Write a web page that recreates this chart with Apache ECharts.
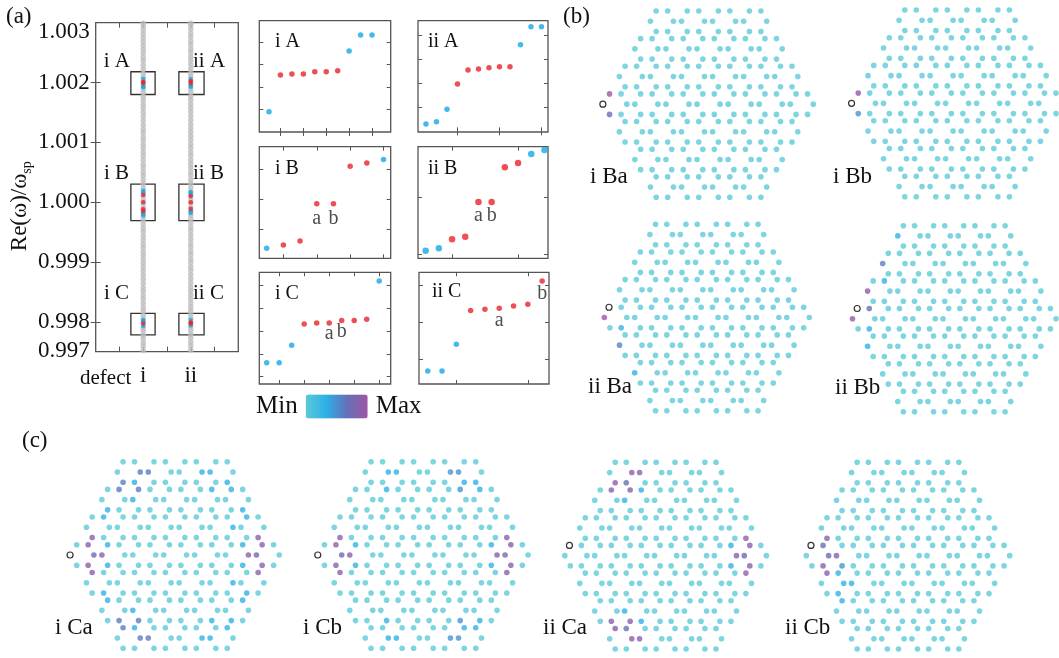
<!DOCTYPE html>
<html>
<head>
<meta charset="utf-8">
<script src="https://cdn.jsdelivr.net/npm/echarts@6/dist/echarts.min.js"></script>
<style>
  html, body { margin: 0; padding: 0; background: #fff; }
  #chart { width: 1059px; height: 658px; }
</style>
</head>
<body>
<div id="chart"></div>
<script>
// ---------------- data : panel (a) ----------------
const xTicksMain = [1, 2, 3, 4, 5];
const xLabelsMain = { 2: 'i', 4: 'ii' };
const yTickValues = [0.9975, 0.998, 0.999, 1.000, 1.001, 1.002, 1.003];
const yTickLabels = ['0.997', '0.998', '0.999', '1.000', '1.001', '1.002', '1.003'];

// continuum eigenvalues Re(w)/w_sp (gray columns)
const continuumI = [
  0.99752, 0.99759, 0.99765, 0.99772, 0.99778, 0.99785, 0.99791, 0.99798, 0.99805, 0.99811,
  0.99818, 0.99824, 0.99831, 0.99838, 0.99844, 0.99851, 0.99857, 0.99864, 0.99871, 0.99878,
  0.99885, 0.99891, 0.99898, 0.99904, 0.99911, 0.99917, 0.99924, 0.99930, 0.99937, 0.99944,
  0.99951, 0.99957, 0.99964, 0.99971, 0.99977, 0.99984, 0.99990, 0.99997, 1.00003, 1.00010,
  1.00016, 1.00023, 1.00030, 1.00037, 1.00044, 1.00050, 1.00057, 1.00063, 1.00070, 1.00077,
  1.00083, 1.00090, 1.00096, 1.00103, 1.00109, 1.00116, 1.00122, 1.00129, 1.00136, 1.00143,
  1.00150, 1.00157, 1.00163, 1.00170, 1.00176, 1.00183, 1.00189, 1.00196, 1.00202, 1.00209,
  1.00215, 1.00222, 1.00229, 1.00236, 1.00242, 1.00249, 1.00255, 1.00262, 1.00268, 1.00275,
  1.00281, 1.00288, 1.00294, 1.00299
];
const continuumII = [
  0.99753, 0.99760, 0.99766, 0.99773, 0.99779, 0.99786, 0.99792, 0.99799, 0.99806, 0.99812,
  0.99819, 0.99825, 0.99832, 0.99839, 0.99845, 0.99852, 0.99858, 0.99865, 0.99872, 0.99879,
  0.99886, 0.99892, 0.99899, 0.99905, 0.99912, 0.99918, 0.99925, 0.99931, 0.99938, 0.99945,
  0.99952, 0.99958, 0.99965, 0.99972, 0.99978, 0.99985, 0.99991, 0.99998, 1.00004, 1.00011,
  1.00017, 1.00024, 1.00031, 1.00038, 1.00045, 1.00051, 1.00058, 1.00064, 1.00071, 1.00078,
  1.00084, 1.00091, 1.00097, 1.00104, 1.00110, 1.00117, 1.00123, 1.00130, 1.00137, 1.00144,
  1.00151, 1.00158, 1.00164, 1.00171, 1.00177, 1.00184, 1.00190, 1.00197, 1.00203, 1.00210,
  1.00216, 1.00223, 1.00230, 1.00237, 1.00243, 1.00250, 1.00256, 1.00263, 1.00269, 1.00276,
  1.00282, 1.00289, 1.00295, 1.00299
];
// defect modes highlighted inside the boxes
const modesBlueI  = [1.00206, 1.00194, 1.00192, 1.00019, 1.00016, 0.99981, 0.99978, 0.99803, 0.99801, 0.99793];
const modesRedI   = [1.00201, 1.00199, 1.00012, 1.00000, 0.99988, 0.99985, 0.99797];
const modesBlueII = [1.00206, 1.00195, 1.00193, 1.00017, 1.00014, 0.99985, 0.99982, 0.99803, 0.99794];
const modesRedII  = [1.00202, 1.00199, 1.00010, 1.00000, 0.99989, 0.99799, 0.99797];
const boxRangesY = [[1.0018, 1.00218], [0.99969, 1.0003], [0.99778, 0.99814]];
const boxRangeXI = [1.48, 2.5];
const boxRangeXII = [3.5, 4.56];

// ---------------- data : zoomed spectra ----------------
const iA_values = [0.905, 2.54, 2.59, 2.59, 2.69, 2.69, 2.73, 3.61, 4.32, 4.32];
const iA_kinds  = ['b', 'r', 'r', 'r', 'r', 'r', 'r', 'b', 'b', 'b'];
const iA_tags   = ['', '', '', '', '', '', '', '', '', ''];
const iiA_values = [0.31, 0.40, 0.92, 1.97, 2.55, 2.59, 2.64, 2.68, 2.68, 3.59, 4.34, 4.34];
const iiA_kinds  = ['b', 'b', 'b', 'r', 'r', 'r', 'r', 'r', 'r', 'b', 'b', 'b'];
const iiA_tags   = ['', '', '', '', '', '', '', '', '', '', '', ''];
const iB_values = [0.357, 0.467, 0.60, 1.84, 1.84, 3.09, 3.20, 3.31];
const iB_kinds  = ['b', 'r', 'r', 'r', 'r', 'r', 'r', 'b'];
const iB_tags   = ['', '', '', 'a', 'b', '', '', ''];
const iiB_values = [1.058, 1.10, 1.26, 1.305, 1.917, 1.917, 2.53, 2.605, 2.76, 2.83];
const iiB_kinds  = ['b', 'b', 'r', 'r', 'r', 'r', 'r', 'r', 'b', 'b'];
const iiB_tags   = ['', '', '', '', 'a', 'b', '', '', '', ''];
const iC_values = [1.61, 1.61, 2.37, 3.30, 3.34, 3.34, 3.45, 3.45, 3.51, 5.18];
const iC_kinds  = ['b', 'b', 'b', 'r', 'r', 'r', 'r', 'r', 'r', 'b'];
const iC_tags   = ['', '', '', '', '', 'a', 'b', '', '', ''];
const iiC_values = [0.673, 0.673, 1.40, 2.32, 2.354, 2.38, 2.44, 2.49, 3.125];
const iiC_kinds  = ['b', 'b', 'b', 'r', 'r', 'r', 'r', 'r', 'r'];
const iiC_tags   = ['', '', '', '', '', 'a', '', '', 'b'];

// ---------------- data : lattice field maps ----------------
// hexamer rows from top (j = 3) to bottom (j = -3)
const hexRows = [4, 5, 6, 7, 6, 5, 4];
const siteRadius = 0.37;            // hexamer radius / lattice constant
// defect site [row j, hexamer k, vertex v]
const defect_i = [0, 0, 3];
const defect_ii = [0, 0, 2];
// highlighted sites [j, k, v, |field| level 0..1]
const iBa_sites = [[0, 0, 2, 1.0], [0, 0, 4, 0.7]];
const iBb_sites = [[0, 0, 2, 0.95], [0, 0, 4, 0.47]];
const iiBa_sites = [[0, 0, 3, 1.0], [0, 0, 5, 0.3], [-1, 0, 3, 0.55], [-2, 0, 3, 0.3]];
const iiBb_sites = [[0, 0, 3, 0.9], [0, 0, 1, 0.65], [0, 0, 5, 0.3], [1, 0, 3, 0.95], [-1, 0, 3, 0.3],
  [2, 0, 3, 0.6], [1, 0, 1, 0.3], [3, 0, 3, 0.3]];
const iCa_sites = [
  [0, 0, 0, 0.7], [0, 0, 1, 0.88], [0, 0, 5, 0.88], [0, 1, 3, 0.88], [0, 1, 2, 0.3], [0, 1, 4, 0.3],
  [1, 0, 4, 0.88], [-1, 0, 2, 0.88],
  [0, 5, 0, 0.88], [0, 6, 3, 0.7], [0, 6, 2, 0.88], [0, 6, 4, 0.88], [1, 5, 5, 0.88], [-1, 5, 1, 0.88],
  [0, 5, 1, 0.3], [0, 5, 5, 0.3],
  [3, 0, 0, 0.6], [3, 1, 3, 0.6], [3, 0, 4, 0.6], [3, 0, 5, 0.3], [2, 0, 1, 0.6], [2, 1, 2, 0.6],
  [2, 1, 3, 0.3], [2, 0, 4, 0.3], [1, 0, 1, 0.3],
  [3, 2, 0, 0.3], [3, 3, 3, 0.3], [3, 3, 5, 0.3], [2, 3, 1, 0.3], [2, 4, 2, 0.3], [2, 4, 5, 0.3],
  [1, 5, 2, 0.3], [1, 4, 0, 0.3],
  [-3, 0, 0, 0.6], [-3, 1, 3, 0.6], [-3, 0, 2, 0.6], [-3, 0, 1, 0.3], [-2, 0, 5, 0.6], [-2, 1, 4, 0.6],
  [-2, 1, 3, 0.3], [-2, 0, 2, 0.3], [-1, 0, 5, 0.3],
  [-3, 2, 0, 0.3], [-3, 3, 3, 0.3], [-3, 3, 1, 0.3], [-2, 3, 5, 0.3], [-2, 4, 4, 0.3], [-2, 4, 1, 0.3],
  [-1, 5, 4, 0.3], [-1, 4, 0, 0.3]
];
const iCb_sites = [
  [0, 0, 0, 0.7], [0, 0, 1, 0.88], [0, 0, 5, 0.88], [0, 1, 3, 0.88], [0, 1, 2, 0.3], [0, 1, 4, 0.3],
  [1, 0, 4, 0.88], [-1, 0, 2, 0.88],
  [0, 5, 0, 0.88], [0, 6, 3, 0.7], [0, 6, 2, 0.88], [0, 6, 4, 0.88], [1, 5, 5, 0.88], [-1, 5, 1, 0.88],
  [0, 5, 1, 0.3], [0, 5, 5, 0.3],
  [3, 0, 0, 0.3], [3, 1, 3, 0.3], [3, 2, 0, 0.47], [3, 3, 3, 0.47], [3, 3, 4, 0.3], [3, 3, 5, 0.3],
  [2, 1, 2, 0.3], [2, 3, 1, 0.47], [2, 4, 2, 0.3],
  [-3, 0, 0, 0.3], [-3, 1, 3, 0.3], [-3, 2, 0, 0.47], [-3, 3, 3, 0.47], [-3, 3, 2, 0.3], [-3, 3, 1, 0.3],
  [-2, 1, 4, 0.3], [-2, 3, 5, 0.47], [-2, 4, 4, 0.3]
];
const iiCa_sites = [
  [3, 0, 0, 0.88], [3, 1, 3, 0.88], [3, 0, 4, 0.88], [3, 0, 5, 0.68], [2, 0, 1, 0.88], [2, 1, 2, 0.88],
  [2, 1, 1, 0.3], [2, 1, 3, 0.3],
  [-3, 0, 0, 0.88], [-3, 1, 3, 0.88], [-3, 0, 2, 0.88], [-3, 0, 1, 0.68], [-2, 0, 5, 0.88], [-2, 1, 4, 0.88],
  [-2, 1, 5, 0.3], [-2, 1, 3, 0.3],
  [1, 5, 5, 0.88], [0, 5, 1, 0.3], [0, 6, 2, 0.88], [0, 5, 0, 0.88], [0, 6, 3, 0.7], [0, 5, 5, 0.3],
  [0, 6, 4, 0.88], [-1, 5, 1, 0.88]
];
const iiCb_sites = [
  [1, 0, 4, 0.88], [0, 0, 1, 0.68], [0, 0, 0, 0.7], [0, 1, 3, 0.88], [0, 0, 5, 0.88], [0, 1, 4, 0.47],
  [-1, 0, 2, 0.88], [-1, 0, 1, 0.3], [-1, 0, 0, 0.3], [-1, 1, 3, 0.3], [-1, 0, 5, 0.3], [-2, 0, 2, 0.3]
];

// ---------------- layout / style ----------------
const FONT = '"Liberation Serif", "Times New Roman", serif';
const BLUE = '#17a8e6', RED = '#e8232b', INK = '#111';
const FRAME = '#555';

const zoomPanels = [
  { title: 'i A',  values: iA_values,  kinds: iA_kinds,  tags: iA_tags,  rect: [259.3, 20.7, 390.7, 132],
    x: [0.153, 11.63], y: [0, 4.96], xTicks: [2, 4, 6, 8, 10], yTicks: [1, 2, 3, 4], tPos: [275, 42], size: 5.5, tagGap: 2 },
  { title: 'ii A', values: iiA_values, kinds: iiA_kinds, tags: iiA_tags, rect: [418, 20.7, 548, 132],
    x: [0.24, 12.62], y: [-0.025, 4.59], xTicks: [4, 8, 12], yTicks: [1, 2, 3, 4], tPos: [428, 42], size: 5.5, tagGap: 2 },
  { title: 'i B',  values: iB_values,  kinds: iB_kinds,  tags: iB_tags,  rect: [259.3, 146.7, 390.7, 258.3],
    x: [0.557, 8.43], y: [0.02, 3.74], xTicks: [2, 4, 6, 8], yTicks: [1, 2, 3], tPos: [275, 168.5], size: 5.5, tagGap: 2 },
  { title: 'ii B', values: iiB_values, kinds: iiB_kinds, tags: iiB_tags, rect: [418, 146.7, 548, 258.3],
    x: [0.42, 10.27], y: [0.924, 2.89], xTicks: [3, 8], yTicks: [1, 2], tPos: [428, 168.5], size: 6.5, tagGap: 1 },
  { title: 'i C',  values: iC_values,  kinds: iC_kinds,  tags: iC_tags,  rect: [259.3, 272.3, 390.7, 384],
    x: [0.41, 10.92], y: [0.68, 5.56], xTicks: [2, 4, 6, 8, 10], yTicks: [1, 2, 3, 4, 5], tPos: [275, 293.5], size: 5.5, tagGap: -2 },
  { title: 'ii C', values: iiC_values, kinds: iiC_kinds, tags: iiC_tags, rect: [419, 272.3, 549, 384],
    x: [0.39, 9.48], y: [0.32, 3.36], xTicks: [3, 8], yTicks: [1, 2, 3], tPos: [432, 292], size: 5.5, tagGap: 0 }
];

// box = [x of left-most site, y of top row, x of right-most site, y of bottom row] in px
const latticePanels = [
  { sites: iBa_sites,  defect: defect_i,  label: 'i Ba',  box: [603.8, 11, 813.3, 197.3],   tag: [590, 177] },
  { sites: iBb_sites,  defect: defect_i,  label: 'i Bb',  box: [852.5, 10, 1061.7, 196.7],  tag: [833, 177] },
  { sites: iiBa_sites, defect: defect_ii, label: 'ii Ba', box: [604.3, 224.3, 809.3, 410.7], tag: [588, 387] },
  { sites: iiBb_sites, defect: defect_ii, label: 'ii Bb', box: [852.5, 225.7, 1056, 411.7], tag: [835, 388] },
  { sites: iCa_sites,  defect: defect_i,  label: 'i Ca',  box: [71, 461.7, 279.3, 648.3],   tag: [55, 628] },
  { sites: iCb_sites,  defect: defect_i,  label: 'i Cb',  box: [318.7, 461.7, 528.1, 648.3], tag: [303, 628] },
  { sites: iiCa_sites, defect: defect_ii, label: 'ii Ca', box: [564.8, 462.3, 766.4, 649],  tag: [543, 628] },
  { sites: iiCb_sites, defect: defect_ii, label: 'ii Cb', box: [806.3, 462.3, 1009.7, 649], tag: [785, 628] }
];

// ---------------- build ----------------
const grid = [], xAxis = [], yAxis = [], series = [], graphic = [];
const tickLine = { color: FRAME, width: 1 };

function addGrid(r, framed) {
  grid.push({
    left: r[0], top: r[1], width: r[2] - r[0], height: r[3] - r[1],
    show: framed, borderColor: FRAME, borderWidth: 1.3, backgroundColor: 'transparent',
    containLabel: false, outerBoundsMode: 'none'
  });
  return grid.length - 1;
}
function tickAxis(list, gi, pos, range, ticks, len, extra) {
  list.push(Object.assign({
    gridIndex: gi, type: 'value', position: pos, min: range[0], max: range[1],
    axisLine: { show: false }, splitLine: { show: false },
    axisTick: { show: true, inside: true, length: len, customValues: ticks, lineStyle: tickLine },
    axisLabel: { show: false }
  }, extra || {}));
  return list.length - 1;
}
function text(str, x, y, size, align) {
  graphic.push({
    type: 'text', silent: true,
    style: { text: str, x: x, y: y, font: size + 'px ' + FONT, fill: INK, align: align || 'left', verticalAlign: 'middle' }
  });
}

// panel (a)
const gMain = addGrid([95.7, 22.7, 238.3, 351.7], true);
const yRange = [yTickValues[0], yTickValues[yTickValues.length - 1]];
const yInner = yTickValues.slice(1, -1);
const xm = tickAxis(xAxis, gMain, 'bottom', [0, 6], xTicksMain, 5, {
  axisLabel: { show: true, customValues: [2, 4], formatter: v => xLabelsMain[Math.round(v)] || '',
    margin: 13, fontFamily: FONT, fontSize: 23, color: INK }
});
tickAxis(xAxis, gMain, 'top', [0, 6], xTicksMain, 5);
const ym = tickAxis(yAxis, gMain, 'left', yRange, yInner, 5, {
  name: '{a|Re(ω)/ω}{b|sp}', nameLocation: 'middle', nameGap: 52,
  nameTextStyle: { padding: [0, 38, 0, 0], rich: {
    a: { fontFamily: FONT, fontSize: 23, color: INK, lineHeight: 28 },
    b: { fontFamily: FONT, fontSize: 14, color: INK, lineHeight: 14, verticalAlign: 'bottom' }
  } },
  axisLabel: {
    show: true, customValues: yTickValues, margin: 6, fontFamily: FONT, fontSize: 23, color: INK,
    formatter: v => {
      const i = yTickValues.findIndex(t => Math.abs(t - v) < 1e-7);
      if (i < 0) return '';
      if (i === yTickValues.length - 1) return '{dn|' + yTickLabels[i] + '}';
      if (i === 0) return '{up|' + yTickLabels[i] + '}';
      return yTickLabels[i];
    },
    rich: {
      dn: { fontFamily: FONT, fontSize: 23, color: INK, padding: [18, 0, 0, 0] },
      up: { fontFamily: FONT, fontSize: 23, color: INK, padding: [0, 0, 2, 0] }
    }
  }
});
tickAxis(yAxis, gMain, 'right', yRange, yInner, 5);

const boxData = [];
boxRangesY.forEach(r => {
  boxData.push([{ xAxis: boxRangeXI[0], yAxis: r[0] }, { xAxis: boxRangeXI[1], yAxis: r[1] }]);
  boxData.push([{ xAxis: boxRangeXII[0], yAxis: r[0] }, { xAxis: boxRangeXII[1], yAxis: r[1] }]);
});
series.push({
  type: 'scatter', xAxisIndex: xm, yAxisIndex: ym, silent: true, symbolSize: 5.5,
  itemStyle: { color: '#bdbdbf' },
  data: continuumI.map(v => [2, v]).concat(continuumII.map(v => [4, v])),
  markArea: { silent: true, itemStyle: { color: 'rgba(0,0,0,0)', borderColor: '#333', borderWidth: 1.3 }, data: boxData }
});
series.push({ type: 'scatter', xAxisIndex: xm, yAxisIndex: ym, silent: true, symbolSize: 4.5, z: 3,
  itemStyle: { color: BLUE }, data: modesBlueI.map(v => [2, v]).concat(modesBlueII.map(v => [4, v])) });
series.push({ type: 'scatter', xAxisIndex: xm, yAxisIndex: ym, silent: true, symbolSize: 4.5, z: 4,
  itemStyle: { color: RED }, data: modesRedI.map(v => [2, v]).concat(modesRedII.map(v => [4, v])) });

text('(a)', 6, 17, 23);
text('defect', 80, 378, 21);
[['i A', 130, 61.7, 'right'], ['ii A', 193, 61.7], ['i B', 129, 173.3, 'right'], ['ii B', 193, 173.3],
 ['i C', 129, 293.3, 'right'], ['ii C', 193, 293.3]].forEach(t => text(t[0], t[1], t[2], 21, t[3]));

// zoomed spectra
zoomPanels.forEach(p => {
  const gi = addGrid(p.rect, true);
  const xi = tickAxis(xAxis, gi, 'bottom', p.x, p.xTicks, 4);
  tickAxis(xAxis, gi, 'top', p.x, p.xTicks, 4);
  const yi = tickAxis(yAxis, gi, 'left', p.y, p.yTicks, 4);
  tickAxis(yAxis, gi, 'right', p.y, p.yTicks, 4);
  ['b', 'r'].forEach(kind => {
    const data = [];
    p.values.forEach((v, i) => {
      if (p.kinds[i] !== kind) return;
      const item = { value: [i + 1, v] };
      if (p.tags[i]) item.label = { show: true, formatter: p.tags[i], position: 'bottom', distance: p.tagGap,
        fontFamily: FONT, fontSize: 20, color: '#222' };
      data.push(item);
    });
    series.push({ type: 'scatter', xAxisIndex: xi, yAxisIndex: yi, silent: true, symbolSize: p.size,
      itemStyle: { color: kind === 'b' ? BLUE : RED }, data: data });
  });
  text(p.title, p.tPos[0], p.tPos[1], 20);
});

// lattice geometry (hexamers on a triangular lattice)
const baseSites = [];
hexRows.forEach((n, r) => {
  const j = 3 - r;
  for (let k = 0; k < n; k++) {
    const cx = k - (n - 1) / 2, cy = j * Math.sqrt(3) / 2;
    for (let v = 0; v < 6; v++) {
      const a = v * Math.PI / 3;
      baseSites.push({ key: j + ',' + k + ',' + v, x: cx + siteRadius * Math.cos(a), y: cy + siteRadius * Math.sin(a) });
    }
  }
});
const xExt = 3 + siteRadius;
const yExt = (3 + siteRadius) * Math.sqrt(3) / 2;
const latticeSeries = [];
latticePanels.forEach(p => {
  const gi = addGrid(p.box, false);
  xAxis.push({ gridIndex: gi, type: 'value', show: false, min: -xExt, max: xExt });
  yAxis.push({ gridIndex: gi, type: 'value', show: false, min: -yExt, max: yExt });
  const ai = xAxis.length - 1;
  const level = new Map(p.sites.map(s => [s[0] + ',' + s[1] + ',' + s[2], s[3]]));
  const defKey = p.defect.join(',');
  const data = [], hole = [];
  baseSites.forEach(s => {
    if (s.key === defKey) hole.push([s.x - 0.03, s.y]);
    else data.push([s.x, s.y, level.has(s.key) ? level.get(s.key) : 0]);
  });
  data.sort((a, b) => a[2] - b[2]);
  latticeSeries.push(series.length);
  series.push({ type: 'scatter', xAxisIndex: ai, yAxisIndex: ai, silent: true, clip: false,
    symbolSize: 5.6, data: data });
  series.push({ type: 'scatter', xAxisIndex: ai, yAxisIndex: ai, silent: true, clip: false, symbolSize: 6,
    itemStyle: { color: '#fff', borderColor: '#000', borderWidth: 1.2 }, data: hole });
  text(p.label, p.tag[0], p.tag[1], 23);
});
text('(b)', 563, 17, 23);
text('(c)', 22, 441, 23);

const chart = echarts.init(document.getElementById('chart'));
chart.setOption({
  animation: false,
  backgroundColor: '#fff',
  grid: grid, xAxis: xAxis, yAxis: yAxis, series: series, graphic: graphic,
  visualMap: {
    type: 'continuous', min: 0, max: 1, dimension: 2, seriesIndex: latticeSeries,
    orient: 'horizontal', left: 241, top: 379, itemWidth: 24, itemHeight: 62,
    text: ['Max', 'Min'], textGap: 8, calculable: false, hoverLink: false,
    textStyle: { fontFamily: FONT, fontSize: 25, color: INK },
    inRange: { color: ['#5ccad8', '#2cb0e6', '#6670b8', '#a055a6'] }
  }
});
</script>
</body>
</html>
